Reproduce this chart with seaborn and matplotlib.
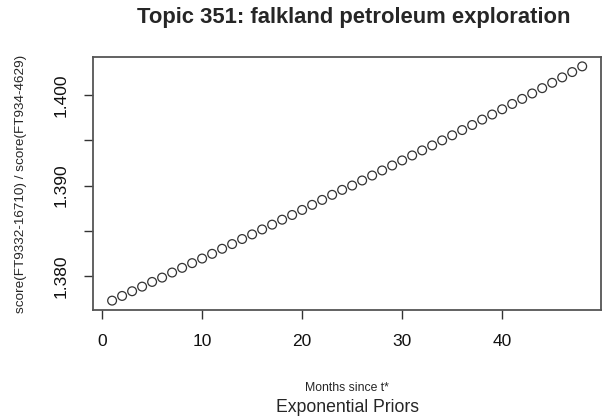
import matplotlib
matplotlib.use("Agg")
import matplotlib.pyplot as plt
import seaborn as sns
import pandas as pd
import numpy as np

months = list(range(1, 49))
ratio = [1.37726, 1.37778, 1.37830, 1.37881, 1.37933, 1.37981, 1.38037, 1.38089,
         1.38141, 1.38192, 1.38244, 1.38300, 1.38352, 1.38408, 1.38459, 1.38514,
         1.38567, 1.38622, 1.38674, 1.38730, 1.38786, 1.38841, 1.38897, 1.38952,
         1.39000, 1.39056, 1.39111, 1.39167, 1.39222, 1.39278, 1.39333, 1.39389,
         1.39444, 1.39500, 1.39556, 1.39614, 1.39670, 1.39730, 1.39786, 1.39844,
         1.39903, 1.39959, 1.40019, 1.40078, 1.40137, 1.40197, 1.40256, 1.40319]
x_ticks = [0, 10, 20, 30, 40]
y_ticks = [1.380, 1.385, 1.390, 1.395, 1.400]
y_labels = ["1.380", "", "1.390", "", "1.400"]

sns.set_style("white")
plt.rcParams['font.family'] = ['Liberation Sans', 'DejaVu Sans']

df = pd.DataFrame({"month": months, "ratio": ratio})

fig = plt.figure(figsize=(6.04, 4.18), dpi=100)
ax = fig.add_axes([93.3/604, 1-310/418, (601-93.3)/604, (310-57)/418])
sns.scatterplot(data=df, x="month", y="ratio", ax=ax, marker="o", s=40,
                facecolor="none", edgecolor="#333333", linewidth=0.9, legend=False)

xr = max(months) - min(months)
ax.set_xlim(min(months) - 0.04*xr, max(months) + 0.04*xr)
yr = max(ratio) - min(ratio)
ax.set_ylim(min(ratio) - 0.04*yr, max(ratio) + 0.04*yr)

ax.set_xticks(x_ticks)
ax.set_xticklabels([str(t) for t in x_ticks], fontsize=12.5, color="#111111")
ax.set_yticks(y_ticks)
ax.set_yticklabels(y_labels, fontsize=12.5, rotation=90, va="center", color="#111111")
ax.tick_params(axis="both", direction="out", length=6.5, width=1, color="#333333",
               bottom=True, left=True)
ax.tick_params(axis="x", pad=11)
ax.tick_params(axis="y", pad=11)
for s in ax.spines.values():
    s.set_color("#555555")
    s.set_linewidth(1.3)
ax.set_xlabel("")
ax.set_ylabel("")

cx = (93.3 + 601) / 2 / 604
fig.text(354/604, 1 - 17/418, "Topic 351: falkland petroleum exploration",
         ha="center", va="center", fontsize=15.8, fontweight="bold")
fig.text(cx, 1 - 388/418, "Months since t*", ha="center", va="center", fontsize=8.8)
fig.text(cx, 1 - 407/418, "Exponential Priors", ha="center", va="center", fontsize=12.7)
fig.text(21/604, 1 - 184/418, "score(FT9332-16710) / score(FT934-4629)",
         ha="center", va="center", rotation=90, fontsize=9.7)

fig.savefig("out.png", dpi=100)
